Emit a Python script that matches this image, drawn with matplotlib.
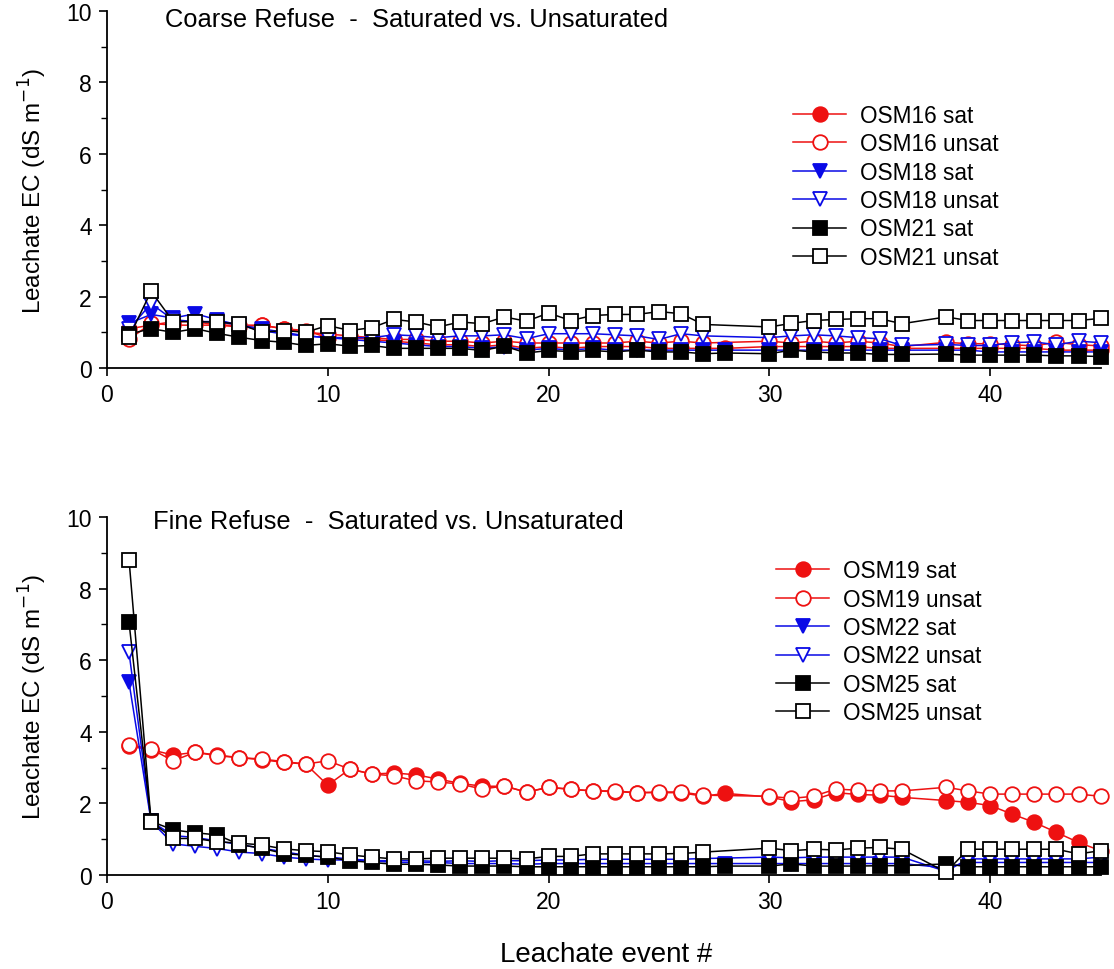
import numpy as np
import matplotlib.pyplot as plt

plt.rcParams['font.family'] = ['Liberation Sans', 'DejaVu Sans']

# leachate events (events 29 and 37 were not sampled, 28 only for sat columns)
x_sat = list(range(1, 29)) + list(range(30, 37)) + list(range(38, 46))
x_unsat = list(range(1, 28)) + list(range(30, 37)) + list(range(38, 46))

# ---- coarse refuse ----
osm16_sat = [1.1, 1.2, 1.3, 1.3, 1.2, 1.15, 1.2, 1.1, 1.05, 0.85, 0.85, 0.8, 0.75, 0.7,
             0.65, 0.65, 0.6, 0.65, 0.55, 0.6, 0.55, 0.6, 0.6, 0.6, 0.55, 0.55, 0.55, 0.55,
             0.6, 0.6, 0.6, 0.6, 0.6, 0.55, 0.55,
             0.55, 0.55, 0.55, 0.55, 0.55, 0.5, 0.5, 0.5]
osm16_unsat = [0.8, 1.25, 1.2, 1.2, 1.2, 1.2, 1.2, 1.1, 1.0, 0.95, 0.9, 0.85, 0.8, 0.8,
               0.75, 0.75, 0.7, 0.75, 0.7, 0.7, 0.7, 0.7, 0.7, 0.75, 0.7, 0.75, 0.7,
               0.75, 0.7, 0.75, 0.7, 0.75, 0.7, 0.6,
               0.72, 0.68, 0.68, 0.65, 0.62, 0.72, 0.65, 0.62]
osm18_sat = [1.25, 1.5, 1.4, 1.52, 1.35, 1.2, 1.1, 1.0, 0.9, 0.85, 0.8, 0.75, 0.7, 0.65,
             0.6, 0.6, 0.55, 0.6, 0.5, 0.55, 0.5, 0.55, 0.5, 0.5, 0.5, 0.5, 0.5, 0.5,
             0.5, 0.5, 0.5, 0.5, 0.5, 0.5, 0.5,
             0.5, 0.5, 0.45, 0.45, 0.45, 0.45, 0.45, 0.45]
osm18_unsat = [1.1, 1.8, 1.35, 1.3, 1.3, 1.2, 1.05, 0.95, 0.9, 0.85, 0.85, 0.85, 0.93, 0.9,
               0.85, 0.9, 0.9, 0.93, 0.82, 0.96, 0.96, 0.96, 0.93, 0.9, 0.8, 0.96, 0.9,
               0.85, 0.9, 0.93, 0.9, 0.85, 0.82, 0.63,
               0.66, 0.63, 0.63, 0.71, 0.73, 0.65, 0.75, 0.71]
osm21_sat = [0.95, 1.1, 1.0, 1.1, 0.97, 0.86, 0.77, 0.72, 0.63, 0.68, 0.61, 0.63, 0.55, 0.55,
             0.55, 0.55, 0.49, 0.61, 0.42, 0.49, 0.46, 0.49, 0.45, 0.5, 0.45, 0.45, 0.4, 0.42,
             0.4, 0.5, 0.45, 0.42, 0.42, 0.38, 0.38,
             0.39, 0.36, 0.36, 0.36, 0.36, 0.34, 0.34, 0.32]
osm21_unsat = [0.86, 2.15, 1.3, 1.3, 1.28, 1.24, 1.0, 1.05, 1.0, 1.19, 1.05, 1.13, 1.36, 1.29,
               1.15, 1.29, 1.24, 1.43, 1.31, 1.54, 1.33, 1.47, 1.5, 1.5, 1.58, 1.52, 1.22,
               1.15, 1.25, 1.33, 1.36, 1.38, 1.38, 1.24,
               1.43, 1.33, 1.33, 1.33, 1.33, 1.33, 1.33, 1.39]

# ---- fine refuse ----
osm19_sat = [3.6, 3.5, 3.35, 3.43, 3.35, 3.28, 3.22, 3.15, 3.1, 2.51, 2.96, 2.82, 2.85, 2.8,
             2.68, 2.56, 2.48, 2.48, 2.32, 2.45, 2.4, 2.35, 2.33, 2.3, 2.3, 2.3, 2.2, 2.28,
             2.18, 2.05, 2.1, 2.3, 2.25, 2.23, 2.17,
             2.08, 2.03, 1.94, 1.7, 1.47, 1.19, 0.91, 0.68]
osm19_unsat = [3.64, 3.52, 3.19, 3.43, 3.33, 3.28, 3.24, 3.17, 3.1, 3.19, 2.96, 2.82, 2.77, 2.63,
               2.6, 2.54, 2.4, 2.49, 2.31, 2.45, 2.39, 2.35, 2.35, 2.3, 2.32, 2.32, 2.23,
               2.2, 2.14, 2.2, 2.4, 2.37, 2.35, 2.35,
               2.45, 2.35, 2.26, 2.26, 2.26, 2.26, 2.26, 2.2]
osm22_sat = [5.38, 1.5, 1.1, 1.05, 0.95, 0.85, 0.75, 0.65, 0.55, 0.5, 0.45, 0.4, 0.35, 0.35,
             0.35, 0.32, 0.32, 0.32, 0.3, 0.32, 0.32, 0.32, 0.32, 0.32, 0.32, 0.32, 0.32, 0.32,
             0.32, 0.32, 0.32, 0.32, 0.32, 0.32, 0.32,
             0.2, 0.35, 0.35, 0.35, 0.35, 0.35, 0.35, 0.35]
osm22_unsat = [6.22, 1.5, 0.87, 0.8, 0.74, 0.64, 0.6, 0.5, 0.45, 0.42, 0.42, 0.4, 0.4, 0.4,
               0.38, 0.4, 0.38, 0.4, 0.4, 0.42, 0.42, 0.44, 0.44, 0.44, 0.44, 0.44, 0.46,
               0.5, 0.48, 0.5, 0.5, 0.5, 0.5, 0.5,
               0.1, 0.45, 0.45, 0.45, 0.45, 0.45, 0.45, 0.5]
osm25_sat = [7.06, 1.5, 1.26, 1.18, 1.12, 0.85, 0.75, 0.6, 0.55, 0.5, 0.4, 0.35, 0.3, 0.3,
             0.28, 0.25, 0.25, 0.25, 0.23, 0.23, 0.23, 0.23, 0.23, 0.23, 0.23, 0.23, 0.23, 0.25,
             0.25, 0.31, 0.25, 0.25, 0.25, 0.26, 0.26,
             0.31, 0.23, 0.23, 0.23, 0.23, 0.23, 0.23, 0.23]
osm25_unsat = [8.81, 1.49, 1.02, 1.02, 0.93, 0.89, 0.84, 0.73, 0.68, 0.65, 0.56, 0.5, 0.45, 0.45,
               0.47, 0.47, 0.47, 0.47, 0.45, 0.52, 0.52, 0.59, 0.59, 0.59, 0.59, 0.6, 0.64,
               0.75, 0.68, 0.72, 0.7, 0.75, 0.77, 0.72,
               0.08, 0.72, 0.72, 0.72, 0.72, 0.72, 0.59, 0.68]

RED = "#ee1111"
BLUE = "#0a0ae6"
BLACK = "black"


def draw_panel(ax, title, title_x, title_y, names, series, legend_anchor):
    styles = [
        (RED, 'o', RED),
        (RED, 'o', 'white'),
        (BLUE, 'v', BLUE),
        (BLUE, 'v', 'white'),
        (BLACK, 's', BLACK),
        (BLACK, 's', 'white'),
    ]
    for i, (name, ys) in enumerate(zip(names, series)):
        color, marker, face = styles[i]
        xs = x_sat if i % 2 == 0 else x_unsat
        ax.plot(xs, ys, color=color, lw=1.1, marker=marker, markersize=10.5 if marker != 'v' else 10,
                markerfacecolor=face, markeredgecolor=color, markeredgewidth=1.3,
                label=name, clip_on=False, zorder=3 + i)

    ax.set_xlim(0, 45)
    ax.set_ylim(0, 10)
    ax.set_xticks([0, 10, 20, 30, 40])
    ax.set_yticks([0, 2, 4, 6, 8, 10])
    ax.set_yticks([1, 3, 5, 7, 9], minor=True)
    ax.tick_params(axis='both', which='major', direction='out', length=6, width=1.2,
                   labelsize=16.5, pad=5)
    ax.tick_params(axis='y', which='minor', direction='out', length=4, width=1.0)
    ax.spines['top'].set_visible(False)
    ax.spines['right'].set_visible(False)
    ax.spines['left'].set_linewidth(1.3)
    ax.spines['bottom'].set_linewidth(1.3)
    ax.set_ylabel("Leachate EC (dS m$^{-1}$)", fontsize=17.5, labelpad=12)
    ax.text(title_x, title_y, title, transform=ax.transAxes, fontsize=18.4, va='center', ha='left')

    ax.legend(loc='upper left', bbox_to_anchor=legend_anchor, frameon=False, fontsize=16.3,
              handlelength=2.35, handletextpad=0.6, labelspacing=0.24, borderpad=0)


fig = plt.figure(figsize=(11.14, 9.70), dpi=100)
ax1 = fig.add_axes([0.096, 0.6196, 0.892, 0.368])
ax2 = fig.add_axes([0.096, 0.0969, 0.892, 0.369])

draw_panel(ax1, "Coarse Refuse  -  Saturated vs. Unsaturated", 0.058, 0.978,
           ["OSM16 sat", "OSM16 unsat", "OSM18 sat", "OSM18 unsat", "OSM21 sat", "OSM21 unsat"],
           [osm16_sat, osm16_unsat, osm18_sat, osm18_unsat, osm21_sat, osm21_unsat],
           (0.679, 0.772))
draw_panel(ax2, "Fine Refuse  -  Saturated vs. Unsaturated", 0.046, 0.989,
           ["OSM19 sat", "OSM19 unsat", "OSM22 sat", "OSM22 unsat", "OSM25 sat", "OSM25 unsat"],
           [osm19_sat, osm19_unsat, osm22_sat, osm22_unsat, osm25_sat, osm25_unsat],
           (0.662, 0.914))

fig.text(0.544, 0.0155, "Leachate event #", fontsize=20, ha='center', va='center')

plt.savefig("out.png", dpi=100)
plt.close()
